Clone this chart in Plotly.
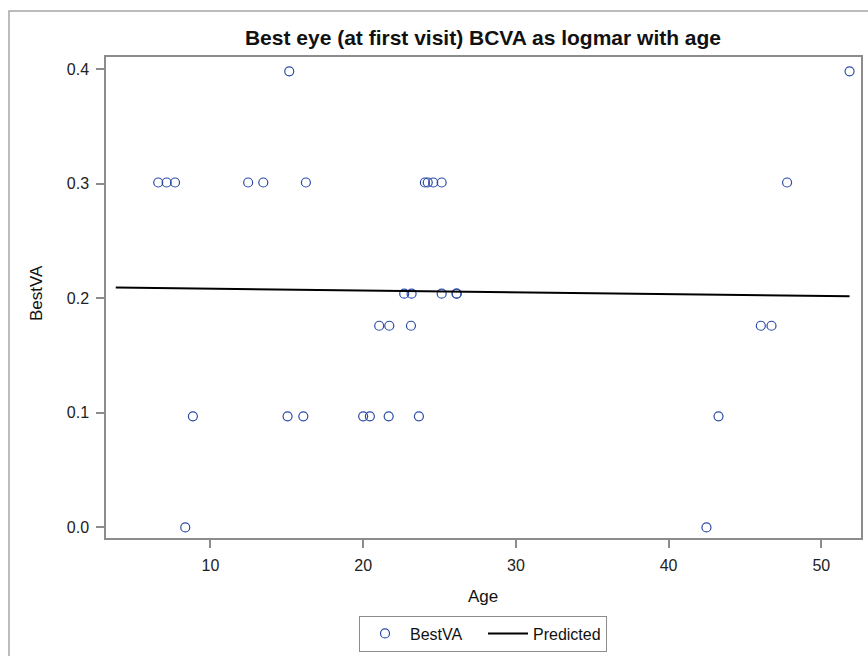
import plotly.graph_objects as go

# Observed data (Age, BestVA logMAR)
age = [15.16, 51.85,
       6.58, 7.13, 7.68, 12.47, 13.46, 16.25, 24.04, 24.23, 24.59, 25.14, 47.76,
       22.69, 23.17, 25.14, 26.12, 26.12,
       21.05, 21.71, 23.13, 46.04, 46.74,
       8.85, 15.05, 16.08, 20.0, 20.44, 21.67, 23.65, 43.27,
       8.35, 42.48]
best_va = [0.398, 0.398,
           0.301, 0.301, 0.301, 0.301, 0.301, 0.301, 0.301, 0.301, 0.301, 0.301, 0.301,
           0.204, 0.204, 0.204, 0.204, 0.204,
           0.176, 0.176, 0.176, 0.176, 0.176,
           0.097, 0.097, 0.097, 0.097, 0.097, 0.097, 0.097, 0.097,
           0.0, 0.0]

# Regression (predicted) line end points
pred_age = [3.8, 51.85]
pred_va = [0.2093, 0.2017]

x_ticks = [10, 20, 30, 40, 50]
y_ticks = [0.0, 0.1, 0.2, 0.3, 0.4]
y_tick_labels = ["0.0", "0.1", "0.2", "0.3", "0.4"]

title_text = "Best eye (at first visit) BCVA as logmar with age"
x_title = "Age"
y_title = "BestVA"

FONT = "Liberation Sans, Arial, sans-serif"
AXIS_GRAY = "#8c8c8c"
MARKER_BLUE = "#2a4aa8"

W, H = 868, 656
L, R, T, B = 106, 7, 57, 118
PW, PH = W - L - R, H - T - B

def px_x(p):
    return (p - L) / PW

def px_y(p):
    return (H - B - p) / PH

fig = go.Figure()
fig.add_trace(go.Scatter(
    x=age, y=best_va, mode="markers", name="BestVA",
    marker=dict(symbol="circle-open", size=9, color=MARKER_BLUE,
                line=dict(width=1.2, color=MARKER_BLUE)),
))
fig.add_trace(go.Scatter(
    x=pred_age, y=pred_va, mode="lines", name="Predicted",
    line=dict(color="black", width=2),
))

axis_common = dict(
    showgrid=False, zeroline=False, showline=True, mirror=True,
    linecolor=AXIS_GRAY, linewidth=1.5, automargin=False,
    ticks="outside", ticklen=8, tickcolor=AXIS_GRAY, tickwidth=1.5,
    ticklabelstandoff=4,
    tickfont=dict(family=FONT, size=16, color="#222"),
)

fig.update_layout(
    width=W, height=H,
    margin=dict(l=L, r=R, t=T, b=B, autoexpand=False),
    paper_bgcolor="white", plot_bgcolor="white",
    font=dict(family=FONT, color="#111"),
    title=dict(text="<b>" + title_text + "</b>", x=px_x(483), xref="paper",
               xanchor="center", y=1 - 38 / H, yanchor="middle",
               font=dict(family=FONT, size=21, color="#111")),
    xaxis=dict(range=[3.16, 52.6], tickvals=x_ticks, **axis_common),
    yaxis=dict(range=[-0.0092, 0.4105], tickvals=y_ticks, ticktext=y_tick_labels,
               **axis_common),
    legend=dict(orientation="h", x=px_x(483), xanchor="center", y=px_y(633.5),
                yanchor="middle", bordercolor=AXIS_GRAY, borderwidth=1,
                font=dict(family=FONT, size=16, color="#111"),
                itemwidth=40, tracegroupgap=0, entrywidth=68,
                entrywidthmode="pixels"),
    annotations=[
        dict(text=x_title, xref="paper", yref="paper", x=px_x(483), y=px_y(596),
             xanchor="center", yanchor="middle", showarrow=False,
             font=dict(family=FONT, size=17, color="#111")),
        dict(text=y_title, xref="paper", yref="paper", x=px_x(36), y=px_y(293),
             xanchor="center", yanchor="middle", showarrow=False, textangle=-90,
             font=dict(family=FONT, size=17, color="#111")),
    ],
    shapes=[dict(type="rect", xref="paper", yref="paper",
                 x0=px_x(9), x1=1.2, y0=-0.5, y1=px_y(11),
                 line=dict(color="#a6a6a6", width=1.5), fillcolor="rgba(0,0,0,0)",
                 layer="below")],
)

fig.write_html("out.html", config={"displayModeBar": False},
               post_script="document.body.style.margin='0';document.body.style.padding='0';")
